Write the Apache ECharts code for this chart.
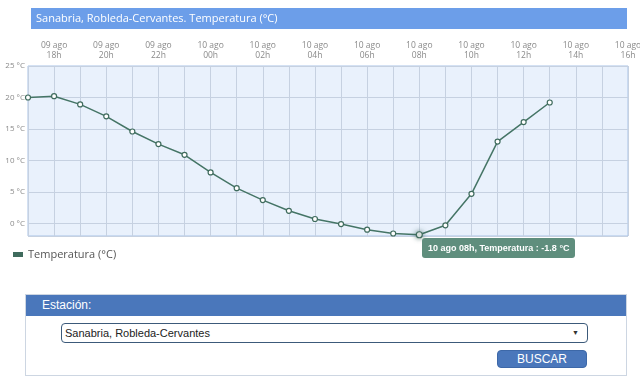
<!DOCTYPE html>
<html>
<head>
<meta charset="utf-8">
<script src="https://cdn.jsdelivr.net/npm/echarts@6/dist/echarts.min.js"></script>
<style>
  html, body { margin: 0; padding: 0; background: #fff; }
  #chart { position: absolute; left: 0; top: 0; width: 640px; height: 290px; }
  .panel { position: absolute; left: 25px; top: 294px; width: 600px; height: 80px; border: 1px solid #cdd6e2; font-family: 'Liberation Sans Narrow', 'Liberation Sans', Arial, sans-serif; }
  .panel .head { height: 21px; line-height: 21px; background: #4a77bb; color: #fff; font-size: 12px; padding-left: 16px; }
  .panel .select { position: absolute; left: 35px; top: 28px; width: 522px; height: 18px; line-height: 18px; border: 1px solid #3c5a7a; border-radius: 4px; font-size: 11px; color: #222; padding-left: 3px; }
  .panel .select .caret { position: absolute; right: 8px; top: 0; font-size: 7px; color: #333; }
  .panel .btn { position: absolute; left: 471px; top: 55px; width: 88px; height: 16px; line-height: 16px; background: #4a77bb; border: 1px solid #3d68a8; border-radius: 4px; color: #fff; font-size: 12px; text-align: center; }
</style>
</head>
<body>
<div id="chart"></div>
<div class="panel">
  <div class="head">Estación:</div>
  <div class="select">Sanabria, Robleda-Cervantes<span class="caret">▼</span></div>
  <div class="btn">BUSCAR</div>
</div>
<script>
// hourly slots, 09 ago 17h .. 10 ago 16h
const HOURS = [
  '09 ago\n17h', '09 ago\n18h', '09 ago\n19h', '09 ago\n20h', '09 ago\n21h', '09 ago\n22h',
  '09 ago\n23h', '10 ago\n00h', '10 ago\n01h', '10 ago\n02h', '10 ago\n03h', '10 ago\n04h',
  '10 ago\n05h', '10 ago\n06h', '10 ago\n07h', '10 ago\n08h', '10 ago\n09h', '10 ago\n10h',
  '10 ago\n11h', '10 ago\n12h', '10 ago\n13h', '10 ago\n14h', '10 ago\n15h', '10 ago\n16h'
];

const TEMPERATURA = [
  20.0, 20.2, 18.9, 17.0, 14.6, 12.6, 10.9, 8.1, 5.6, 3.7, 2.0,
  0.7, -0.1, -1.0, -1.6, -1.8, -0.3, 4.7, 13.0, 16.1, 19.2
];

const SERIES_NAME = 'Temperatura (°C)';
const TIP_INDEX = 15;

const LINE_COLOR = '#3f6b5d';
const GRID_COLOR = '#c6d1e1';

const chart = echarts.init(document.getElementById('chart'));

chart.setOption({
  animation: false,
  textStyle: { fontFamily: 'Open Sans, sans-serif' },
  title: {
    text: 'Sanabria, Robleda-Cervantes. Temperatura (°C)',
    left: 31,
    top: 8,
    padding: [4, 5, 4, 5],
    backgroundColor: '#6c9ee9',
    textStyle: { color: '#fff', fontSize: 11, fontWeight: 'normal', width: 586, lineHeight: 13 }
  },
  legend: {
    left: 8,
    top: 244,
    icon: 'rect',
    itemWidth: 10,
    itemHeight: 5,
    itemGap: 4,
    itemStyle: { color: LINE_COLOR, borderWidth: 0 },
    textStyle: { color: '#555', fontSize: 11 },
    data: [SERIES_NAME]
  },
  grid: {
    left: 28,
    right: 12,
    top: 66,
    bottom: 54,
    outerBoundsMode: 'none',
    show: true,
    backgroundColor: '#e9f1fc',
    borderColor: '#a9c3e7',
    borderWidth: 1
  },
  tooltip: {
    trigger: 'item',
    triggerOn: 'none',
    alwaysShowContent: true,
    backgroundColor: '#5f8e7d',
    borderColor: '#5f8e7d',
    borderWidth: 0,
    padding: [3, 6],
    extraCssText: 'box-shadow:none;border-radius:3px;',
    textStyle: { color: '#fff', fontSize: 9, fontWeight: 'bold', fontFamily: 'Liberation Sans Narrow, Liberation Sans, sans-serif' },
    position: (point) => [point[0] + 3, point[1] + 3],
    formatter: (p) => p.name.replace('\n', ' ') + ', Temperatura : ' + p.value + ' °C'
  },
  xAxis: {
    type: 'category',
    position: 'top',
    boundaryGap: false,
    data: HOURS,
    axisLine: { show: false },
    axisTick: { show: false },
    axisLabel: {
      interval: (idx) => idx % 2 === 1,
      color: '#8a8a8a',
      fontSize: 8.5,
      lineHeight: 10,
      margin: 5
    },
    splitLine: { show: true, interval: 0, lineStyle: { color: GRID_COLOR } }
  },
  yAxis: {
    type: 'value',
    min: -2,
    max: 25,
    splitNumber: 5,
    axisLine: { show: false },
    axisTick: { show: false },
    axisLabel: {
      showMinLabel: false,
      color: '#8a8a8a',
      fontSize: 8,
      margin: 3,
      formatter: '{value} °C'
    },
    splitLine: { lineStyle: { color: GRID_COLOR } }
  },
  series: [{
    name: SERIES_NAME,
    type: 'line',
    data: TEMPERATURA,
    symbol: 'circle',
    symbolSize: 5,
    color: LINE_COLOR,
    lineStyle: { color: LINE_COLOR, width: 1.5 },
    itemStyle: { color: '#fff', borderColor: LINE_COLOR, borderWidth: 1.2 },
    emphasis: {
      scale: 1.2,
      itemStyle: { shadowBlur: 5, shadowColor: 'rgba(60,100,88,0.7)' },
      lineStyle: { width: 1.5 }
    }
  }]
});

chart.dispatchAction({ type: 'highlight', seriesIndex: 0, dataIndex: TIP_INDEX });
chart.dispatchAction({ type: 'showTip', seriesIndex: 0, dataIndex: TIP_INDEX });
</script>
</body>
</html>
